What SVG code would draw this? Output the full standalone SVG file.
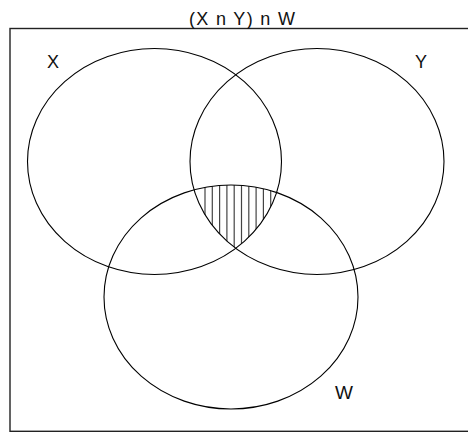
<svg xmlns="http://www.w3.org/2000/svg" width="468" height="432" viewBox="0 0 468 432">
<style>
.set{fill:none;stroke:#000;stroke-width:1.1}
.lbl{font-family:"Liberation Sans",Arial,sans-serif;fill:#111}
.hatch line{stroke:#444;stroke-width:1.2}
</style>
<defs>
<clipPath id="cX"><ellipse cx="154.5" cy="161.5" rx="127" ry="113"/></clipPath>
<clipPath id="cY"><ellipse cx="317" cy="161.5" rx="127" ry="113"/></clipPath>
<clipPath id="cW"><ellipse cx="231" cy="297" rx="127" ry="112"/></clipPath>
</defs>
<rect width="468" height="432" fill="#fff"/>
<g id="frame">
<rect x="10" y="28.5" width="470" height="402.8" fill="none" stroke="#222" stroke-width="1.4"/>
<text class="lbl" x="242" y="25" font-size="18" text-anchor="middle" textLength="106">(X n Y) n W</text>
</g>
<g id="shade">
<g clip-path="url(#cX)"><g clip-path="url(#cY)"><g clip-path="url(#cW)" class="hatch">
<line x1="205" y1="170" x2="205" y2="260"/>
<line x1="212.3" y1="170" x2="212.3" y2="260"/>
<line x1="219.6" y1="170" x2="219.6" y2="260"/>
<line x1="226.9" y1="170" x2="226.9" y2="260"/>
<line x1="234.2" y1="170" x2="234.2" y2="260"/>
<line x1="241.5" y1="170" x2="241.5" y2="260"/>
<line x1="248.8" y1="170" x2="248.8" y2="260"/>
<line x1="256.1" y1="170" x2="256.1" y2="260"/>
<line x1="263.4" y1="170" x2="263.4" y2="260"/>
<line x1="270.7" y1="170" x2="270.7" y2="260"/>
</g></g></g>
</g>
<g id="X">
<ellipse class="set" cx="154.5" cy="161.5" rx="127" ry="113"/>
<text class="lbl" x="47" y="68" font-size="18">X</text>
</g>
<g id="Y">
<ellipse class="set" cx="317" cy="161.5" rx="127" ry="113"/>
<text class="lbl" x="415" y="68" font-size="18">Y</text>
</g>
<g id="W">
<ellipse class="set" cx="231" cy="297" rx="127" ry="112"/>
<text class="lbl" x="335" y="399" font-size="19">W</text>
</g>
<g id="connectors"/>
</svg>
